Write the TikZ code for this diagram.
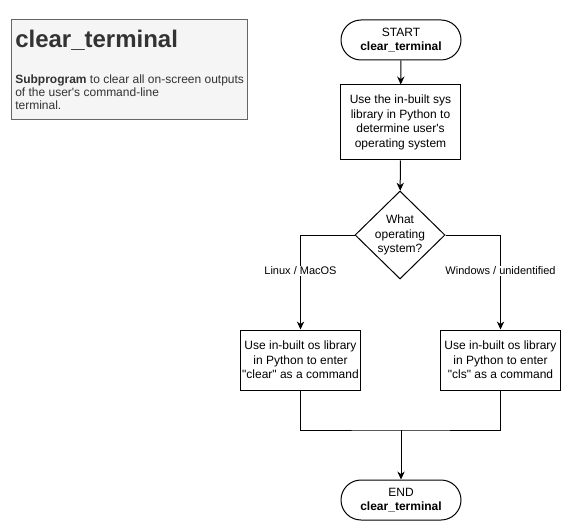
\documentclass[tikz,border=0pt]{standalone}
\usepackage{fontspec}
\setmainfont{Liberation Sans}
\usetikzlibrary{shapes.geometric,arrows.meta}
\definecolor{flowInk}{HTML}{000000}
\definecolor{noteInk}{HTML}{333333}
\definecolor{noteEdge}{HTML}{666666}
\definecolor{noteFill}{HTML}{F5F5F5}

\begin{document}
\begin{tikzpicture}[x=0.75pt, y=-0.75pt,
  every node/.style={font=\fontsize{9}{11}\selectfont, align=center},
  terminal/.style={draw=flowInk, line width=0.75pt, rounded corners=15pt, minimum width=90pt, minimum height=30pt, inner sep=0pt},
  process/.style={draw=flowInk, line width=0.75pt, minimum width=90pt, inner sep=0pt},
  decision/.style={draw=flowInk, line width=0.75pt, diamond, minimum width=67.5pt, minimum height=66pt, inner sep=-3pt},
  flow/.style={line width=0.75pt, -{Stealth[length=6pt,width=5.5pt]}},
  edgelabel/.style={fill=white, inner sep=1pt, font=\fontsize{8.25}{10}\selectfont}]
\useasboundingbox (0,0) rectangle (571,531);

% note box
\node[draw=noteEdge, fill=noteFill, line width=0.75pt, minimum width=177pt, minimum height=75pt, inner sep=0pt] (info) at (129,70) {};
\node[anchor=base west, inner sep=0pt, text=noteInk, font=\bfseries\fontsize{18}{20}\selectfont] (infotitle) at (15,48) {clear\_terminal};
\node[anchor=north west, inner sep=0pt, align=left, text=noteInk, font=\fontsize{9}{9.6}\selectfont] (infobody) at (15,75)
  {\textbf{Subprogram} to clear all on-screen outputs\\of the user\textquotesingle s command-line\\terminal.};

% flowchart
\node[terminal] (start) at (401,40) {START\\\textbf{clear\_terminal}};
\node[process, minimum height=56.25pt] (detect) at (400.5,122.5) {Use the in-built sys\\library in Python to\\determine user\textquotesingle s\\operating system};
\node[decision] (osq) at (400,235) {What\\operating\\system?};
\node[process, minimum height=45pt] (unixcmd) at (300.5,360) {Use in-built os library\\in Python to enter\\\textquotedbl clear\textquotedbl{} as a command};
\node[process, minimum height=45pt] (wincmd) at (500.5,360) {Use in-built os library\\in Python to enter\\\textquotedbl cls\textquotedbl{} as a command};
\node[terminal] (stop) at (401,500) {END\\\textbf{clear\_terminal}};
\coordinate (join) at (401,430);

\draw[flow] (start) -- (detect);
\draw[flow] (detect) -- (osq);
\draw[flow] (osq.west) -| node[edgelabel, pos=0.69] {Linux / MacOS} (unixcmd.north);
\draw[flow] (osq.east) -| node[edgelabel, pos=0.69] {Windows / unidentified} (wincmd.north);
\draw[line width=0.75pt] (unixcmd.south) |- (join) -| (wincmd.south);
\draw[flow] (join) -- (stop);
\end{tikzpicture}
\end{document}
